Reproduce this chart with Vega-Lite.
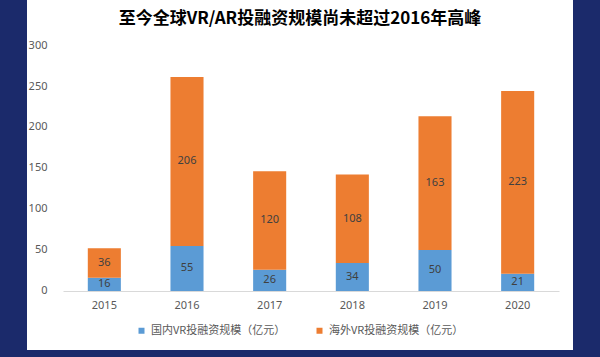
{
  "$schema": "https://vega.github.io/schema/vega-lite/v6.json",
  "width": 546,
  "height": 350,
  "autosize": {"type": "none"},
  "padding": {"left": 27, "top": 0, "right": 27, "bottom": 7},
  "background": "#1b2a6b",
  "config": {
    "view": {"fill": "white", "stroke": null},
    "font": "Noto Sans CJK SC"
  },
  "title": {
    "text": "至今全球VR/AR投融资规模尚未超过2016年高峰",
    "fontSize": 17,
    "fontWeight": "bold",
    "color": "#000000",
    "anchor": "middle",
    "offset": -28
  },
  "data": {
    "values": [
      {"year": "2015", "type": "国内VR投融资规模（亿元）", "value": 16},
      {"year": "2015", "type": "海外VR投融资规模（亿元）", "value": 36},
      {"year": "2016", "type": "国内VR投融资规模（亿元）", "value": 55},
      {"year": "2016", "type": "海外VR投融资规模（亿元）", "value": 206},
      {"year": "2017", "type": "国内VR投融资规模（亿元）", "value": 26},
      {"year": "2017", "type": "海外VR投融资规模（亿元）", "value": 120},
      {"year": "2018", "type": "国内VR投融资规模（亿元）", "value": 34},
      {"year": "2018", "type": "海外VR投融资规模（亿元）", "value": 108},
      {"year": "2019", "type": "国内VR投融资规模（亿元）", "value": 50},
      {"year": "2019", "type": "海外VR投融资规模（亿元）", "value": 163},
      {"year": "2020", "type": "国内VR投融资规模（亿元）", "value": 21},
      {"year": "2020", "type": "海外VR投融资规模（亿元）", "value": 223}
    ]
  },
  "transform": [
    {"stack": "value", "groupby": ["year"], "sort": [{"field": "type", "order": "ascending"}], "as": ["v0", "v1"]},
    {"calculate": "(datum.v0 + datum.v1) / 2", "as": "mid"}
  ],
  "encoding": {
    "x": {
      "field": "year",
      "type": "ordinal",
      "scale": {"range": [36, 532], "paddingInner": 0.6, "paddingOuter": 0.3},
      "axis": {
        "title": null,
        "labelAngle": 0,
        "offset": -59,
        "ticks": false,
        "domainColor": "#d9d9d9",
        "labelPadding": 8,
        "labelFont": "Noto Sans",
        "labelFontSize": 11,
        "labelColor": "#595959",
        "grid": false
      }
    }
  },
  "layer": [
    {
      "mark": {"type": "bar"},
      "encoding": {
        "y": {
          "field": "v0",
          "type": "quantitative",
          "scale": {"domain": [-72, 354.9], "nice": false, "zero": false},
          "axis": {
            "title": null,
            "values": [0, 50, 100, 150, 200, 250, 300],
            "grid": false,
            "domain": false,
            "ticks": false,
            "offset": -20,
            "labelPadding": 0,
            "labelFont": "Noto Sans",
            "labelFontSize": 11,
            "labelColor": "#595959"
          }
        },
        "y2": {"field": "v1"},
        "color": {
          "field": "type",
          "type": "nominal",
          "scale": {
            "domain": ["国内VR投融资规模（亿元）", "海外VR投融资规模（亿元）"],
            "range": ["#5b9bd5", "#ed7d31"]
          },
          "legend": {
            "title": null,
            "orient": "none",
            "legendX": 109,
            "legendY": 325,
            "direction": "horizontal",
            "symbolType": "square",
            "symbolSize": 36,
            "labelFontSize": 11,
            "labelColor": "#595959",
            "columnPadding": 28
          }
        }
      }
    },
    {
      "mark": {"type": "text", "fontSize": 11, "color": "#404040", "font": "Noto Sans"},
      "encoding": {
        "y": {"field": "mid", "type": "quantitative"},
        "text": {"field": "value", "type": "quantitative"}
      }
    }
  ]
}
